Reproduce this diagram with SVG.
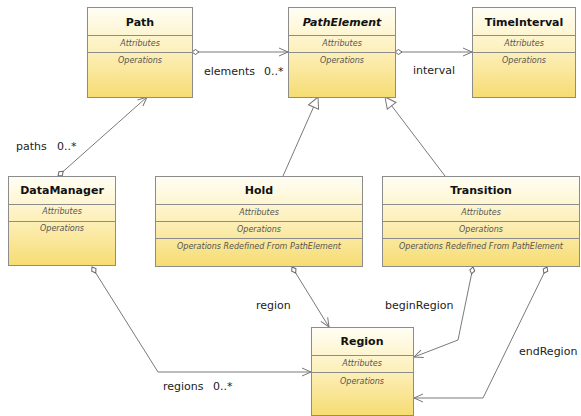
<svg xmlns="http://www.w3.org/2000/svg" width="581" height="416" viewBox="0 0 581 416">
<defs>
<linearGradient id="g" x1="0" y1="0" x2="0" y2="1">
<stop offset="0" stop-color="#fffef5"/>
<stop offset="0.45" stop-color="#fdf1bf"/>
<stop offset="1" stop-color="#f6dc72"/>
</linearGradient>
<marker id="arr" markerWidth="12" markerHeight="10" refX="10" refY="5" orient="auto" markerUnits="userSpaceOnUse">
<path d="M1,1 L10,5 L1,9" fill="none" stroke="#777" stroke-width="1"/>
</marker>
<marker id="dia" markerWidth="10" markerHeight="8" refX="1" refY="4" orient="auto" markerUnits="userSpaceOnUse">
<path d="M1,4 L4.5,1.5 L8,4 L4.5,6.5 Z" fill="#fff" stroke="#666" stroke-width="1"/>
</marker>
<marker id="tri" markerWidth="14" markerHeight="14" refX="12" refY="7" orient="auto" markerUnits="userSpaceOnUse">
<path d="M12,7 L1,1.5 L1,12.5 Z" fill="#fff" stroke="#777" stroke-width="1"/>
</marker>
</defs>
<style>
.box{fill:url(#g);stroke:#8c8c8c;stroke-width:1}
.div{stroke:#8c8c8c;stroke-width:1}
.t{font-family:"DejaVu Sans",sans-serif;font-weight:bold;font-size:11px;fill:#111;text-anchor:middle}
.ti{font-style:italic}
.c{font-family:"DejaVu Sans",sans-serif;font-style:italic;font-size:8px;fill:#555;text-anchor:middle}
.l{font-family:"DejaVu Sans",sans-serif;font-size:11px;fill:#222}
.e{fill:none;stroke:#7a7a7a;stroke-width:1}
</style>
<rect width="581" height="416" fill="#fff"/>
<g id="connectors">
<path class="e" d="M192,52 L288,52" marker-start="url(#dia)" marker-end="url(#arr)"/>
<path class="e" d="M395,52 L472,52" marker-start="url(#dia)" marker-end="url(#arr)"/>
<path class="e" d="M58,176 L147,97" marker-start="url(#dia)" marker-end="url(#arr)"/>
<path class="e" d="M283,176 L318,97" marker-end="url(#tri)"/>
<path class="e" d="M445,176 L385,97" marker-end="url(#tri)"/>
<path class="e" d="M292,267 L329,327" marker-start="url(#dia)" marker-end="url(#arr)"/>
<path class="e" d="M92,267 L158,372 L311,372" marker-start="url(#dia)" marker-end="url(#arr)"/>
<path class="e" d="M473,267 L458,340 L414,357" marker-start="url(#dia)" marker-end="url(#arr)"/>
<path class="e" d="M547,267 L483,398 L414,398" marker-start="url(#dia)" marker-end="url(#arr)"/>
<text class="l" x="204" y="75">elements <tspan x="264">0..*</tspan></text>
<text class="l" x="413" y="74">interval</text>
<text class="l" x="16" y="150">paths <tspan x="57">0..*</tspan></text>
<text class="l" x="256" y="309">region</text>
<text class="l" x="163" y="390">regions <tspan x="213">0..*</tspan></text>
<text class="l" x="385" y="309">beginRegion</text>
<text class="l" x="519" y="355">endRegion</text>
</g>
<g id="Path">
<rect class="box" x="87.5" y="7.5" width="105" height="90"/>
<line class="div" x1="87.5" y1="35.5" x2="192.5" y2="35.5"/>
<line class="div" x1="87.5" y1="52.5" x2="192.5" y2="52.5"/>
<text class="t" x="140" y="26">Path</text>
<text class="c" x="140" y="46">Attributes</text>
<text class="c" x="140" y="63">Operations</text>
</g>
<g id="PathElement">
<rect class="box" x="288.5" y="7.5" width="107" height="90"/>
<line class="div" x1="288.5" y1="35.5" x2="395.5" y2="35.5"/>
<line class="div" x1="288.5" y1="52.5" x2="395.5" y2="52.5"/>
<text class="t ti" x="342" y="26">PathElement</text>
<text class="c" x="342" y="46">Attributes</text>
<text class="c" x="342" y="63">Operations</text>
</g>
<g id="TimeInterval">
<rect class="box" x="472.5" y="7.5" width="103" height="90"/>
<line class="div" x1="472.5" y1="35.5" x2="575.5" y2="35.5"/>
<line class="div" x1="472.5" y1="52.5" x2="575.5" y2="52.5"/>
<text class="t" x="524" y="26">TimeInterval</text>
<text class="c" x="524" y="46">Attributes</text>
<text class="c" x="524" y="63">Operations</text>
</g>
<g id="DataManager">
<rect class="box" x="8.5" y="176.5" width="107" height="89"/>
<line class="div" x1="8.5" y1="204.5" x2="115.5" y2="204.5"/>
<line class="div" x1="8.5" y1="221.5" x2="115.5" y2="221.5"/>
<text class="t" x="62" y="194">DataManager</text>
<text class="c" x="62" y="214">Attributes</text>
<text class="c" x="62" y="231">Operations</text>
</g>
<g id="Hold">
<rect class="box" x="155.5" y="176.5" width="207" height="90"/>
<line class="div" x1="155.5" y1="204.5" x2="362.5" y2="204.5"/>
<line class="div" x1="155.5" y1="221.5" x2="362.5" y2="221.5"/>
<line class="div" x1="155.5" y1="238.5" x2="362.5" y2="238.5"/>
<text class="t" x="259" y="194">Hold</text>
<text class="c" x="259" y="215">Attributes</text>
<text class="c" x="259" y="232">Operations</text>
<text class="c" x="259" y="249">Operations Redefined From PathElement</text>
</g>
<g id="Transition">
<rect class="box" x="382.5" y="176.5" width="197" height="90"/>
<line class="div" x1="382.5" y1="204.5" x2="579.5" y2="204.5"/>
<line class="div" x1="382.5" y1="221.5" x2="579.5" y2="221.5"/>
<line class="div" x1="382.5" y1="238.5" x2="579.5" y2="238.5"/>
<text class="t" x="481" y="194">Transition</text>
<text class="c" x="481" y="215">Attributes</text>
<text class="c" x="481" y="232">Operations</text>
<text class="c" x="481" y="249">Operations Redefined From PathElement</text>
</g>
<g id="Region">
<rect class="box" x="311.5" y="327.5" width="102" height="88"/>
<line class="div" x1="311.5" y1="355.5" x2="413.5" y2="355.5"/>
<line class="div" x1="311.5" y1="372.5" x2="413.5" y2="372.5"/>
<text class="t" x="362" y="345">Region</text>
<text class="c" x="362" y="366">Attributes</text>
<text class="c" x="362" y="384">Operations</text>
</g>
</svg>
